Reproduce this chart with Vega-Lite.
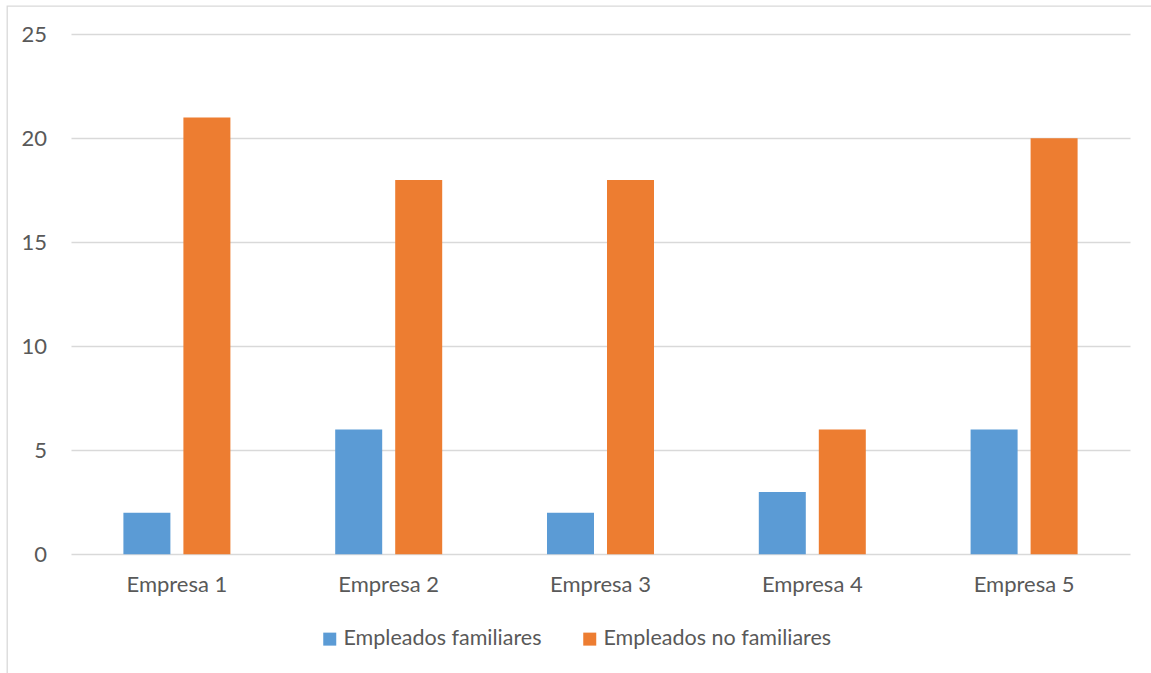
{
  "$schema": "https://vega.github.io/schema/vega-lite/v6.json",
  "width": 1147,
  "height": 670,
  "autosize": {"type": "none"},
  "padding": {"left": 7, "top": 6, "right": -3, "bottom": -3},
  "background": "white",
  "data": {
    "values": [
      {"empresa": "Empresa 1", "serie": "Empleados familiares", "valor": 2},
      {"empresa": "Empresa 1", "serie": "Empleados no familiares", "valor": 21},
      {"empresa": "Empresa 2", "serie": "Empleados familiares", "valor": 6},
      {"empresa": "Empresa 2", "serie": "Empleados no familiares", "valor": 18},
      {"empresa": "Empresa 3", "serie": "Empleados familiares", "valor": 2},
      {"empresa": "Empresa 3", "serie": "Empleados no familiares", "valor": 18},
      {"empresa": "Empresa 4", "serie": "Empleados familiares", "valor": 3},
      {"empresa": "Empresa 4", "serie": "Empleados no familiares", "valor": 6},
      {"empresa": "Empresa 5", "serie": "Empleados familiares", "valor": 6},
      {"empresa": "Empresa 5", "serie": "Empleados no familiares", "valor": 20}
    ]
  },
  "mark": {"type": "bar"},
  "encoding": {
    "x": {
      "field": "empresa",
      "type": "nominal",
      "sort": null,
      "scale": {"range": [64, 1123], "paddingInner": 0.4948, "paddingOuter": 0.2474},
      "axis": {
        "title": null,
        "labelAngle": 0,
        "domain": false,
        "ticks": false,
        "tickSize": 0,
        "grid": false,
        "offset": -122,
        "labelPadding": 20,
        "labelBaseline": "top",
        "labelFont": "Lato",
        "labelFontSize": 22,
        "labelColor": "#595959"
      }
    },
    "xOffset": {
      "field": "serie",
      "type": "nominal",
      "sort": ["Empleados familiares", "Empleados no familiares"],
      "scale": {"paddingInner": 0.2167, "paddingOuter": 0}
    },
    "y": {
      "field": "valor",
      "type": "quantitative",
      "scale": {"domain": [0, 25], "nice": false, "range": [548.3, 28.3]},
      "axis": {
        "title": null,
        "values": [0, 5, 10, 15, 20, 25],
        "domain": false,
        "ticks": false,
        "tickSize": 0,
        "grid": true,
        "gridColor": "#D9D9D9",
        "gridWidth": 1.3,
        "offset": -39.5,
        "labelPadding": 0,
        "labelFont": "Lato",
        "labelFontSize": 22,
        "labelColor": "#595959"
      }
    },
    "color": {
      "field": "serie",
      "type": "nominal",
      "sort": ["Empleados familiares", "Empleados no familiares"],
      "scale": {"range": ["#5B9BD5", "#ED7D31"]},
      "legend": {
        "title": null,
        "orient": "none",
        "direction": "horizontal",
        "legendX": 312,
        "legendY": 622,
        "padding": 0,
        "symbolType": "square",
        "symbolSize": 169,
        "symbolStrokeWidth": 0,
        "labelOffset": 3,
        "columnPadding": 37,
        "labelFont": "Lato",
        "labelFontSize": 21.5,
        "labelColor": "#595959",
        "labelLimit": 400
      }
    }
  },
  "config": {
    "view": {"stroke": "#D9D9D9", "strokeWidth": 1.3}
  }
}
